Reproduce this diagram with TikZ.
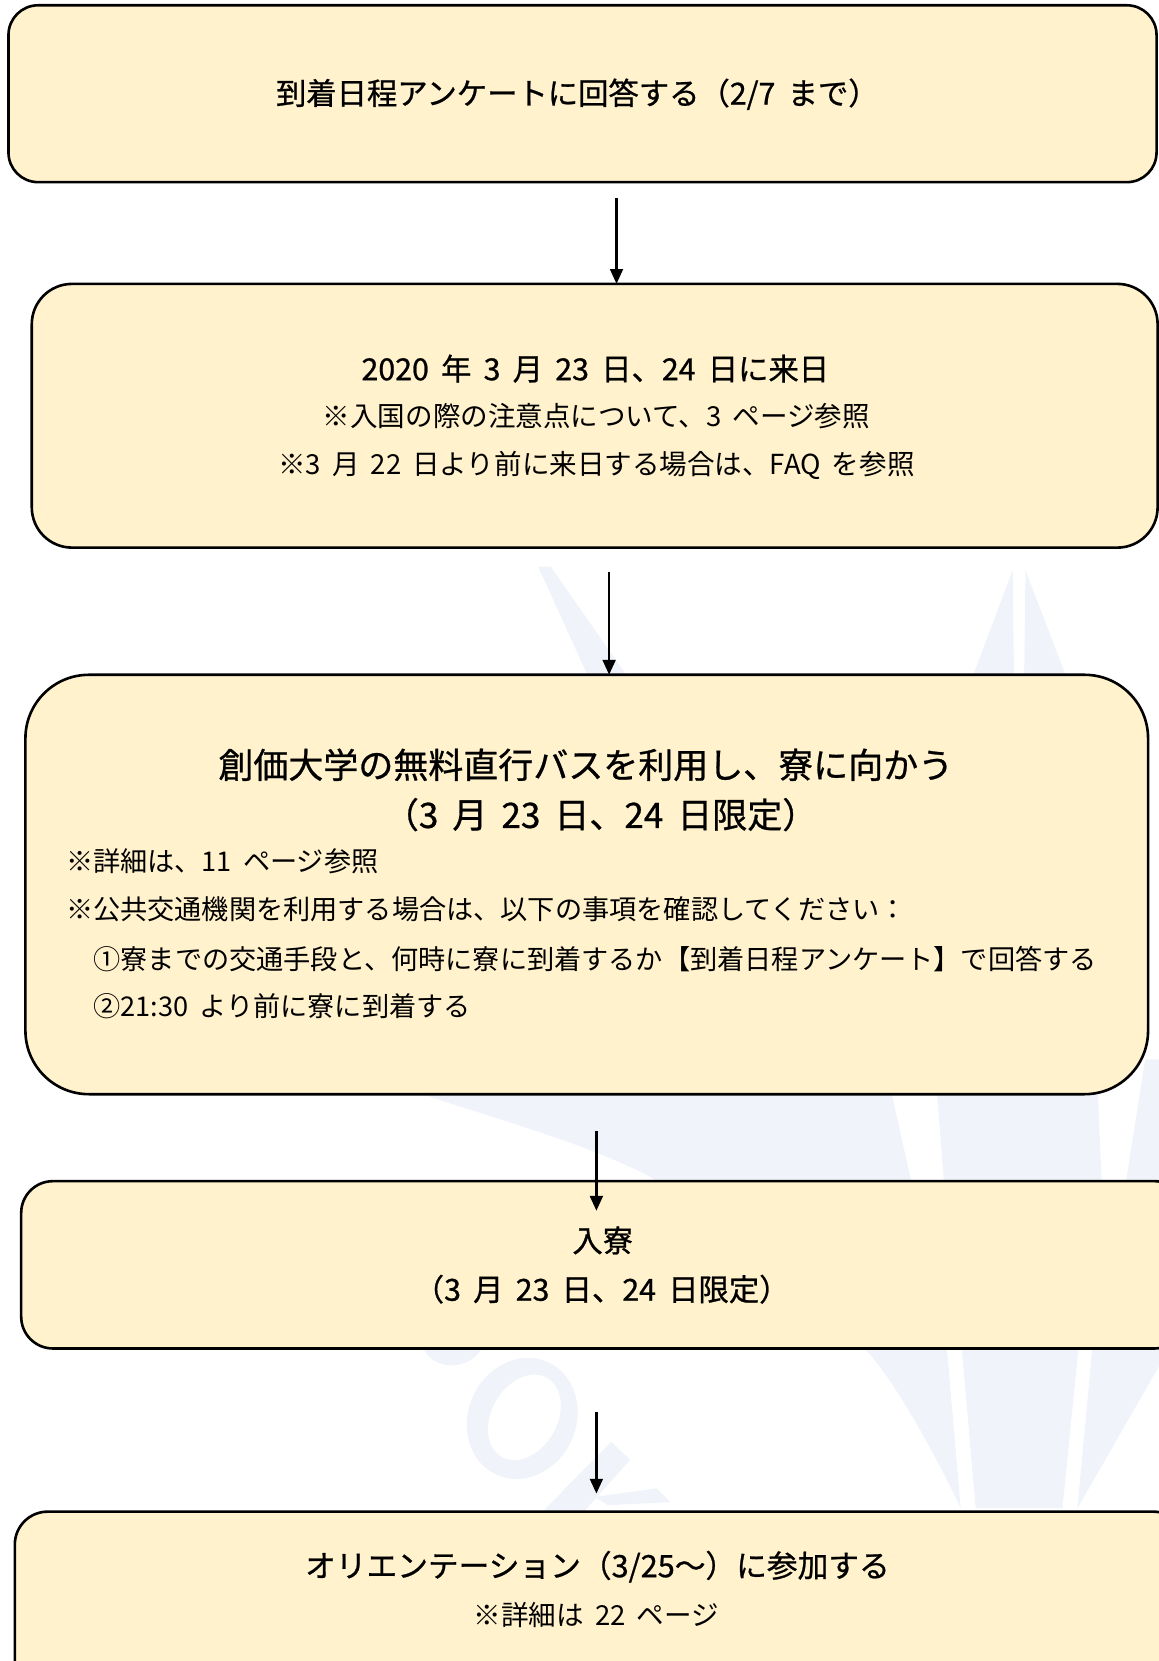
\documentclass[tikz,border=0pt]{standalone}
\usepackage{fontspec}
\newfontfamily\jp[WordSpace=1.8]{Noto Sans CJK JP}
\newfontfamily\jpm[FakeBold=0.8,WordSpace=1.8]{Noto Sans CJK JP}
\usetikzlibrary{arrows.meta,calc}
\definecolor{boxfill}{RGB}{255,242,204}
\definecolor{wmark}{RGB}{240,244,250}
\begin{document}
\begin{tikzpicture}[x=0.02cm,y=-0.02cm,
  flowbox/.style={draw=black, line width=1.4pt, fill=boxfill, rectangle, anchor=north west, inner sep=0pt, outer sep=0pt},
  ttl/.style={font=\jpm\fontsize{16.3pt}{18pt}\selectfont, inner sep=0pt, anchor=center},
  ttlb/.style={font=\jpm\fontsize{16.5pt}{18pt}\selectfont, inner sep=0pt, anchor=center},
  bigttl/.style={font=\jpm\fontsize{18.8pt}{22pt}\selectfont, inner sep=0pt, anchor=center},
  nt/.style={font=\jp\fontsize{14.8pt}{17pt}\selectfont, inner sep=0pt, anchor=center},
  ntl/.style={font=\jp\fontsize{14.6pt}{17pt}\selectfont, inner sep=0pt, anchor=west},
  flowarrow/.style={line width=1.4pt, -{Triangle[length=0.28cm,width=0.24cm]}},
  wm/.style={fill=wmark, draw=none},
]
\useasboundingbox (0,0) rectangle (1094,1568);
\clip (0,0) rectangle (1094,1568);

% watermark
\fill[wm] (508,535) -- (520,535) -- (635,700) -- (583,700) -- cycle;
\fill[wm] (956,538) -- (958,700) -- (895,700) -- cycle;
\fill[wm] (968,538) -- (1030,700) -- (966,700) -- cycle;
\fill[wm] plot[smooth] coordinates {(360,1020) (405,1035) (619,1114) (817,1274) (907,1424)} -- (894,1274) -- (860,1114) -- (839,1020) -- cycle;
\fill[wm] (882,1000) -- (1035,1000) -- (1040,1115) -- (1018,1274) -- (1003,1424) -- (921,1424) -- (908,1274) -- (891,1115) -- cycle;
\fill[wm] (1081,1000) -- (1100,1000) -- (1100,1280) -- (1094,1290) -- (1017,1424) -- (1031,1274) -- (1063,1115) -- cycle;
\fill[wm, even odd rule] (493,1339) ellipse [x radius=1.17cm, y radius=1.02cm, rotate=65]
                         (495,1338) ellipse [x radius=0.86cm, y radius=0.62cm, rotate=60];
\fill[wm] (398,1268) .. controls (405,1296) and (447,1296) .. (457,1268) -- cycle;
\fill[wm] (510,1440) -- (514,1425) -- (577,1361) -- (595,1378) -- (553,1425) -- (550,1440) -- cycle;
\fill[wm] (561,1413) -- (620,1405) -- (633,1418) -- (574,1421) -- cycle;

% boxes
\node[flowbox, minimum width=21.68cm, minimum height=3.34cm, rounded corners=0.56cm] (b1) at (8,5) {};
\node[flowbox, minimum width=21.26cm, minimum height=4.98cm, rounded corners=0.76cm] (b2) at (30,268) {};
\node[flowbox, minimum width=21.2cm, minimum height=7.92cm, rounded corners=1.2cm] (b3) at (24,637) {};
\node[flowbox, minimum width=22cm, minimum height=3.16cm, rounded corners=0.6cm] (b4) at (20,1115) {};
\node[flowbox, minimum width=22.12cm, minimum height=3.86cm, rounded corners=0.62cm] (b5) at (14,1427) {};

% texts
\node[ttl] (t1) at (545,89) {到着日程アンケートに回答する（2/7 まで）};
\node[ttl] (t2a) at (562,348) {2020 年 3 月 23 日、24 日に来日};
\node[nt] (t2b) at (563,393) {※入国の際の注意点について、3 ページ参照};
\node[nt] (t2c) at (563,439) {※3 月 22 日より前に来日する場合は、FAQ を参照};
\node[bigttl] (t3a) at (553,722) {創価大学の無料直行バスを利用し、寮に向かう};
\node[bigttl] (t3b) at (567,769) {（3 月 23 日、24 日限定）};
\node[ntl] (t3c) at (62,813) {※詳細は、11 ページ参照};
\node[ntl] (t3d) at (62,858) {※公共交通機関を利用する場合は、以下の事項を確認してください：};
\node[ntl] (t3e) at (88,905) {①寮までの交通手段と、何時に寮に到着するか【到着日程アンケート】で回答する};
\node[ntl] (t3f) at (88,950) {②21:30 より前に寮に到着する};
\node[ttl] (t4a) at (569,1171) {入寮};
\node[ttl] (t4b) at (568,1217) {（3 月 23 日、24 日限定）};
\node[ttlb] (t5a) at (564,1479) {オリエンテーション（3/25～）に参加する};
\node[nt] (t5b) at (563,1525) {※詳細は 22 ページ};

% arrows
\coordinate (s1) at (582,187);
\coordinate (s2) at (575,540);
\coordinate (s3) at (563,1068);
\coordinate (e3) at (563,1143);
\coordinate (s4) at (563,1333);
\coordinate (e4) at (563,1410);
\draw[flowarrow] (s1) -- (s1 |- b2.north);
\draw[flowarrow] (s2) -- (s2 |- b3.north);
\draw[flowarrow] (s3) -- (e3);
\draw[flowarrow] (s4) -- (e4);
\end{tikzpicture}
\end{document}
